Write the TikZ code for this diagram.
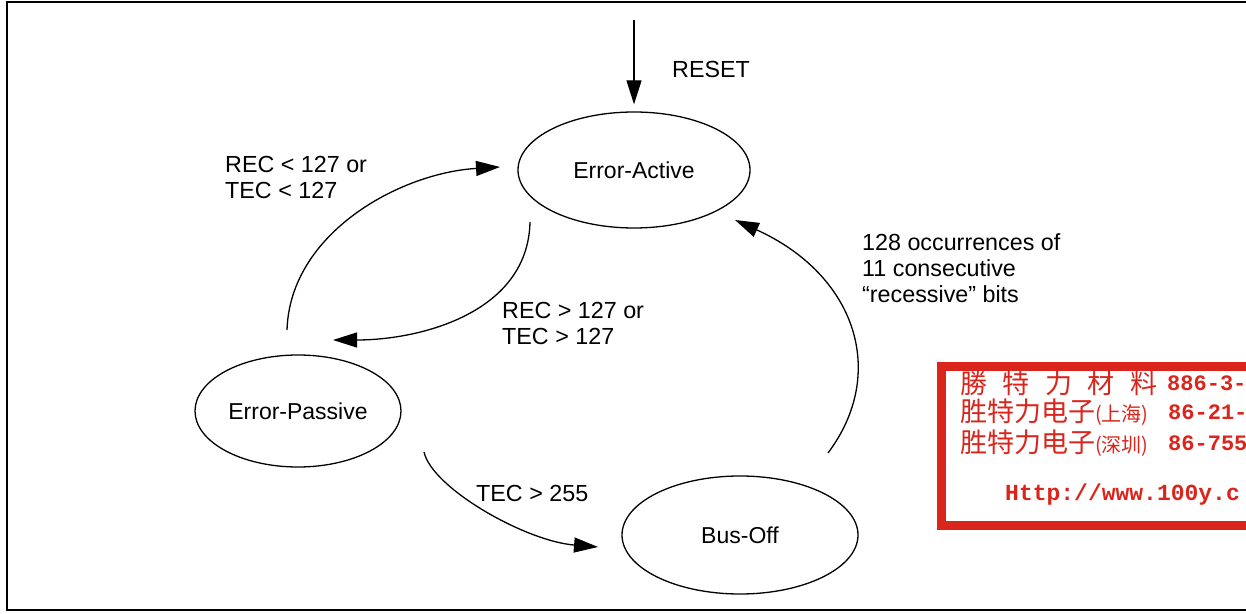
\documentclass[tikz,border=0pt]{standalone}
\usepackage{fontspec}
\setmainfont{Liberation Sans}
\newfontfamily\cjk{Noto Sans CJK SC}
\newfontfamily\sellomono{Liberation Mono}
\usetikzlibrary{shapes.geometric,arrows.meta,calc}
\definecolor{rojosello}{RGB}{218,37,28}

\begin{document}
\begin{tikzpicture}[x=1pt,y=1pt,
  estado/.style={draw,ellipse,line width=1.3pt,inner sep=0pt,font=\fontsize{23}{26}\selectfont},
  trans/.style={line width=1.3pt,-{Triangle[length=24pt,width=15pt]}},
  etiq/.style={inner sep=0pt,align=left,font=\fontsize{23.3}{26}\selectfont},
  sello/.style={inner sep=0pt,anchor=west,text=rojosello}]
  \useasboundingbox (0,0) rectangle (1246,613);
  \clip (0,0) rectangle (1246,613);
  \fill[white] (0,0) rectangle (1246,613);

  % Marco
  \draw[line width=2.5pt] (7,3) rectangle (1270,611);

  % Estados
  \node[estado,minimum width=232pt,minimum height=116pt] (activo) at (634,443) {Error-Active};
  \node[estado,minimum width=206pt,minimum height=112pt] (pasivo) at (298,202) {Error-Passive};
  \node[estado,minimum width=236pt,minimum height=118pt] (busoff) at (740,78) {Bus-Off};

  % Reset
  \coordinate (reset) at (634,593);
  \draw[trans,shorten >=7pt] (reset) -- (activo.north);
  \node[etiq,anchor=base west] at (672,535) {RESET};

  % Transiciones
  \draw[trans] ($(pasivo)+(-11,81)$) .. controls (290,380) and (400,440) .. ($(activo)+(-134,3)$);
  \draw[trans] ($(activo)+(-104,-52)$) .. controls (528,300) and (420,273) .. ($(pasivo)+(35,71)$);
  \draw[trans] ($(pasivo)+(126,-41)$) .. controls (432,125) and (525,72) .. ($(busoff)+(-142,-12)$);
  \draw[trans] ($(busoff)+(88,82)$) .. controls (888,240) and (856,338) .. ($(activo)+(101,-50)$);

  % Etiquetas de transiciones
  \node[etiq,anchor=north west] at (225,457) {REC < 127 or\\TEC < 127};
  \node[etiq,anchor=north west] at (502,311) {REC > 127 or\\TEC > 127};
  \node[etiq,anchor=base west] at (476,112) {TEC > 255};
  \node[etiq,anchor=north west] at (862,380) {128 occurrences of\\11 consecutive\\“recessive” bits};

  % Sello
  \fill[white] (937,83) rectangle (1300,251);
  \draw[rojosello,line width=9pt] (941.5,87.5) rectangle (1300,246.5);
  \node[sello,font=\cjk\fontsize{27}{30}\selectfont] at (960,230) {勝\hspace{15.5pt}特\hspace{15.5pt}力\hspace{15.5pt}材\hspace{15.5pt}料};
  \node[sello,font=\cjk\fontsize{27}{30}\selectfont] at (960,201) {胜特力电子{\fontsize{20}{22}\selectfont(上海)}};
  \node[sello,font=\cjk\fontsize{27}{30}\selectfont] at (960,170) {胜特力电子{\fontsize{20}{22}\selectfont(深圳)}};
  \node[sello,font=\sellomono\bfseries\fontsize{22}{26}\selectfont] at (1167,230) {886-3-};
  \node[sello,font=\sellomono\bfseries\fontsize{22}{26}\selectfont] at (1168,201) {86-21-};
  \node[sello,font=\sellomono\bfseries\fontsize{22}{26}\selectfont] at (1168,170) {86-755};
  \node[sello,font=\sellomono\bfseries\fontsize{23}{26}\selectfont] at (1005,118) {Http://www.100y.c};
\end{tikzpicture}
\end{document}
